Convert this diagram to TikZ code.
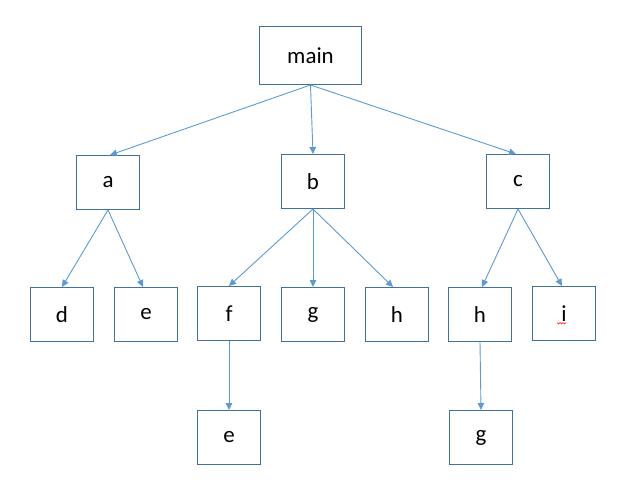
\documentclass[tikz,border=0pt]{standalone}
\usepackage{fontspec}
\setmainfont{Carlito}
\usetikzlibrary{arrows.meta}
\definecolor{boxline}{HTML}{41719C}
\definecolor{arrowline}{HTML}{5B9BD5}
\begin{document}
\begin{tikzpicture}[x=1bp,y=-1bp,
  treebox/.style={draw=boxline,line width=1bp,fill=white,minimum width=63bp,minimum height=54bp,inner sep=0pt,font=\fontsize{23}{27}\selectfont},
  link/.style={draw=arrowline,line width=0.9bp,-{Triangle[length=7bp,width=6.5bp]}}]
\useasboundingbox (0,0) rectangle (630,495);
\node[treebox,minimum width=102bp,minimum height=58bp] (main) at (310.5,55.5) {main};
\node[treebox] (a) at (108,182.5) {a};
\node[treebox] (b) at (313,181.5) {b};
\node[treebox] (c) at (518,181.5) {c};
\node[treebox] (d) at (62,314.5) {d};
\node[treebox] (e) at (146,314.5) {e};
\node[treebox] (f) at (229,313.5) {f};
\node[treebox] (g) at (313,314.5) {g};
\node[treebox] (h) at (397,314.5) {h};
\node[treebox] (h2) at (480,314.5) {h};
\node[treebox] (i) at (564,313.5) {i};
\node[treebox] (e2) at (229,437.5) {e};
\node[treebox] (g2) at (481,437.5) {g};
\draw[link] (main.south) -- ([xshift=2bp]a.north);
\draw[link] (main.south) -- (b.north);
\draw[link] (main.south) -- ([xshift=-2bp]c.north);
\draw[link] (a.south) -- (d.north);
\draw[link] (a.south) -- ([xshift=-3bp]e.north);
\draw[link] (b.south) -- (f.north);
\draw[link] (b.south) -- (g.north);
\draw[link] (b.south) -- ([xshift=-4bp]h.north);
\draw[link] (c.south) -- ([xshift=2bp]h2.north);
\draw[link] (c.south) -- ([xshift=-2bp]i.north);
\draw[link] (f.south) -- (e2.north);
\draw[link] (h2.south) -- (g2.north);
\coordinate (sq) at (557,322.5);
\draw[red,line width=0.6bp] (sq) -- ++(1.5,1.5) -- ++(1.5,-1.5) -- ++(1.5,1.5) -- ++(1.5,-1.5) -- ++(1.5,1.5) -- ++(1.5,-1.5);
\end{tikzpicture}
\end{document}
